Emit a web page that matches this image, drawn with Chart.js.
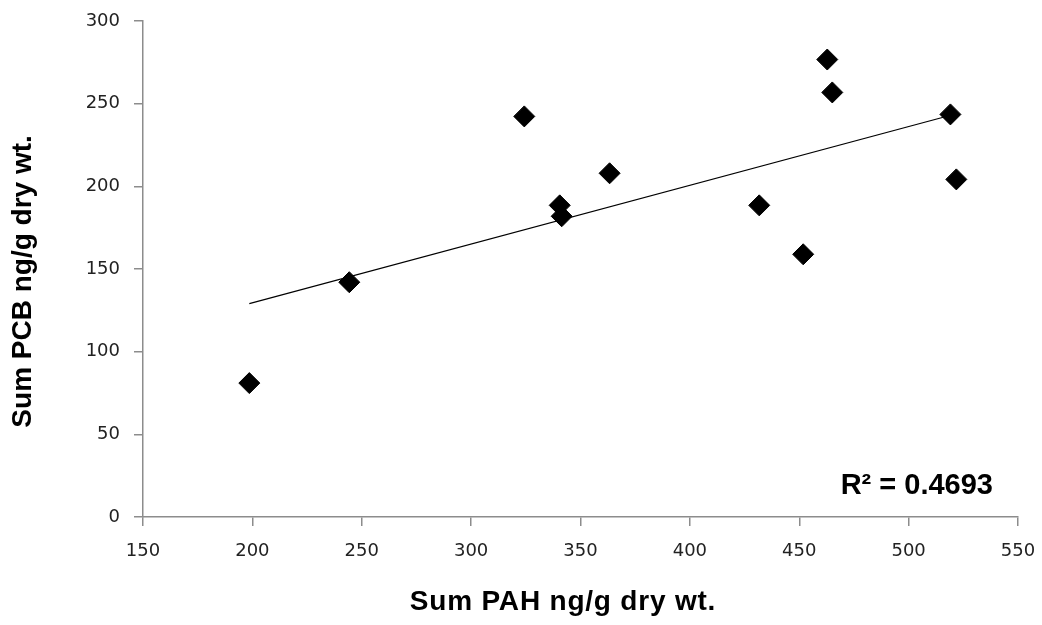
<!DOCTYPE html>
<html>
<head>
<meta charset="utf-8">
<script src="https://cdn.jsdelivr.net/npm/chart.js@4.4.1/dist/chart.umd.min.js"></script>
<style>
  html, body { margin: 0; padding: 0; background: #ffffff; }
  #wrap { position: relative; width: 1042px; height: 625px; }
</style>
</head>
<body>
<div id="wrap"><canvas id="c" width="1042" height="625"></canvas></div>
<script>
// Sum PAH (x) and Sum PCB (y), ng/g dry wt.
const pahValues = [198.6, 244.3, 324.3, 340.5, 341.4, 363.3, 431.7, 451.8, 462.8, 465.1, 519.1, 521.8];
const pcbValues = [81.0, 142.0, 242.3, 188.5, 181.9, 207.9, 188.5, 158.9, 276.7, 256.8, 243.5, 204.2];
// Linear trendline endpoints
const trendX = [198.6, 521.8];
const trendY = [129.1, 243.9];
const rSquaredLabel = 'R² = 0.4693';
const xTitle = 'Sum PAH ng/g dry wt.';
const yTitle = 'Sum PCB ng/g dry wt.';

const points = pahValues.map((x, i) => ({ x: x, y: pcbValues[i] }));
const trend = trendX.map((x, i) => ({ x: x, y: trendY[i] }));

const axisColor = '#8c8c8c';
const tickFont = { family: '"DejaVu Sans", sans-serif', size: 18 };
const boldFont = 'bold 28px "Liberation Sans", Arial, sans-serif';

const textPlugin = {
  id: 'texts',
  afterDatasetsDraw(chart) {
    const { ctx, chartArea } = chart;
    ctx.save();
    ctx.fillStyle = '#000';
    ctx.textBaseline = 'middle';
    // R² annotation
    ctx.font = 'bold 29px "Liberation Sans", Arial, sans-serif';
    ctx.textAlign = 'right';
    ctx.fillText(rSquaredLabel, chartArea.right - 25, chartArea.bottom - 31);
    // x axis title
    ctx.font = boldFont;
    ctx.textAlign = 'center';
    if ('letterSpacing' in ctx) ctx.letterSpacing = '0.8px';
    ctx.fillText(xTitle, chartArea.left + (chartArea.right - chartArea.left) * 0.48, chartArea.bottom + 85);
    if ('letterSpacing' in ctx) ctx.letterSpacing = '0px';
    // y axis title
    ctx.translate(23, chartArea.top + (chartArea.bottom - chartArea.top) * 0.525);
    ctx.rotate(-Math.PI / 2);
    ctx.fillText(yTitle, 0, 0);
    ctx.restore();
  }
};

new Chart(document.getElementById('c'), {
  type: 'scatter',
  data: {
    datasets: [
      {
        label: 'Samples',
        data: points,
        pointStyle: 'rectRot',
        pointRadius: 10.5,
        pointHoverRadius: 10.5,
        backgroundColor: '#000',
        borderColor: '#000',
        borderWidth: 1,
        order: 1
      },
      {
        type: 'line',
        label: 'Linear fit',
        data: trend,
        borderColor: '#000',
        borderWidth: 1.2,
        pointRadius: 0,
        fill: false,
        order: 2
      }
    ]
  },
  options: {
    responsive: false,
    animation: false,
    events: [],
    layout: { padding: { top: 21, right: 24, bottom: 0, left: 0 } },
    plugins: { legend: { display: false }, tooltip: { enabled: false } },
    scales: {
      x: {
        type: 'linear',
        min: 150, max: 550,
        ticks: { stepSize: 50, color: '#222', font: tickFont, padding: 15 },
        grid: { drawOnChartArea: false, drawTicks: true, tickLength: 9, color: axisColor, lineWidth: 1.5 },
        border: { display: true, color: axisColor, width: 1.5 },
        afterFit(scale) { scale.height = 108; scale.paddingLeft = 0; scale.paddingRight = 0; }
      },
      y: {
        type: 'linear',
        min: 0, max: 300,
        ticks: { stepSize: 50, color: '#222', font: tickFont, padding: 14 },
        grid: { drawOnChartArea: false, drawTicks: true, tickLength: 9, color: axisColor, lineWidth: 1.5 },
        border: { display: true, color: axisColor, width: 1.5 },
        afterFit(scale) { scale.width = 143; scale.paddingTop = 0; scale.paddingBottom = 0; }
      }
    }
  },
  plugins: [textPlugin]
});
</script>
</body>
</html>
